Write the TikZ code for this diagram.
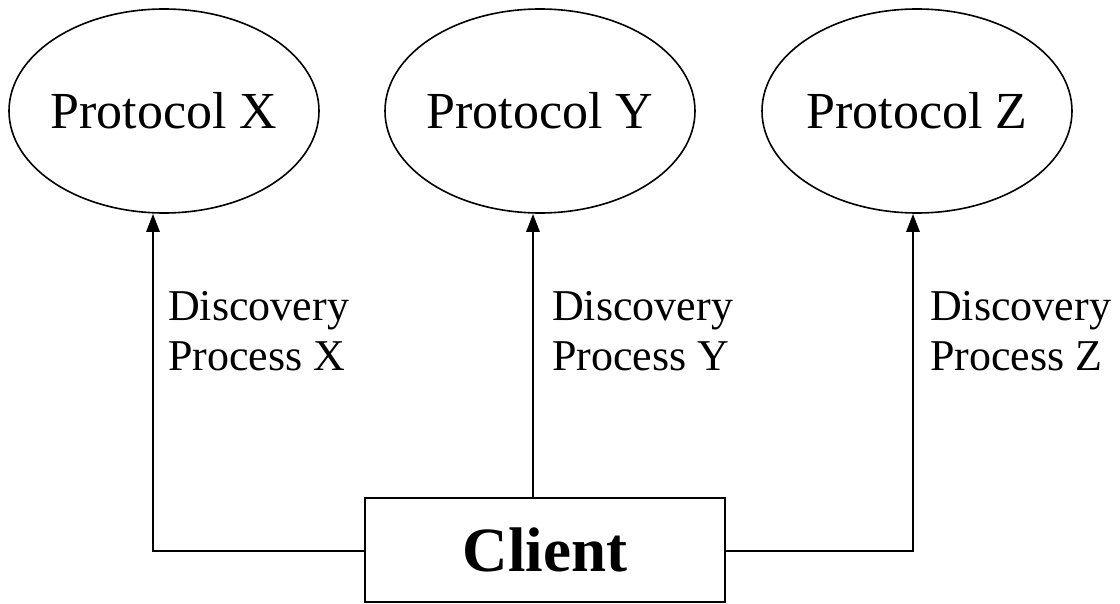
\documentclass[tikz,border=0pt]{standalone}
\usepackage{fontspec}
\setmainfont{Liberation Serif}
\usetikzlibrary{shapes.geometric,arrows.meta}
\begin{document}
\begin{tikzpicture}[
            x = 1pt, y = -1pt,
            proto/.style = {
                ellipse,
                draw,
                line width = 1.6pt,
                inner xsep = -20pt,
                inner ysep = 0pt,
                minimum width = 310pt,
                minimum height = 204pt,
                font = \fontsize{52}{60}\selectfont},
            client/.style = {
                rectangle,
                draw,
                line width = 2.4pt,
                minimum width = 360pt,
                minimum height = 104pt,
                font = \fontsize{63}{70}\selectfont\bfseries},
            label/.style = {
                align = left,
                anchor = west,
                inner sep = 0pt,
                font = \fontsize{44}{50}\selectfont},
            arrow/.style = {
                draw,
                line width = 2.8pt,
                -{Triangle[length=18pt,width=13pt]}}]
        \useasboundingbox (0,0) rectangle (1120,604);
        % Place nodes
        \node [proto] (px) at (164,111) {Protocol X};
        \node [proto] (py) at (540,111) {Protocol Y};
        \node [proto] (pz) at (917,111) {Protocol Z};
        \node [client] (cl) at (545,550) {Client};
        \node [label] (lx) at (168,331) {Discovery\\Process X};
        \node [label] (ly) at (552,331) {Discovery\\Process Y};
        \node [label] (lz) at (930,331) {Discovery\\Process Z};
        \coordinate (jx) at (153,551);
        \coordinate (jy) at (533,551);
        \coordinate (jz) at (913,551);

        % Draw edges
        \path [arrow] (cl.west |- jx) -- (jx) -- (jx |- px.south);
        \path [arrow] (jy |- cl.north) -- (jy |- py.south);
        \path [arrow] (cl.east |- jz) -- (jz) -- (jz |- pz.south);
    \end{tikzpicture}
\end{document}
